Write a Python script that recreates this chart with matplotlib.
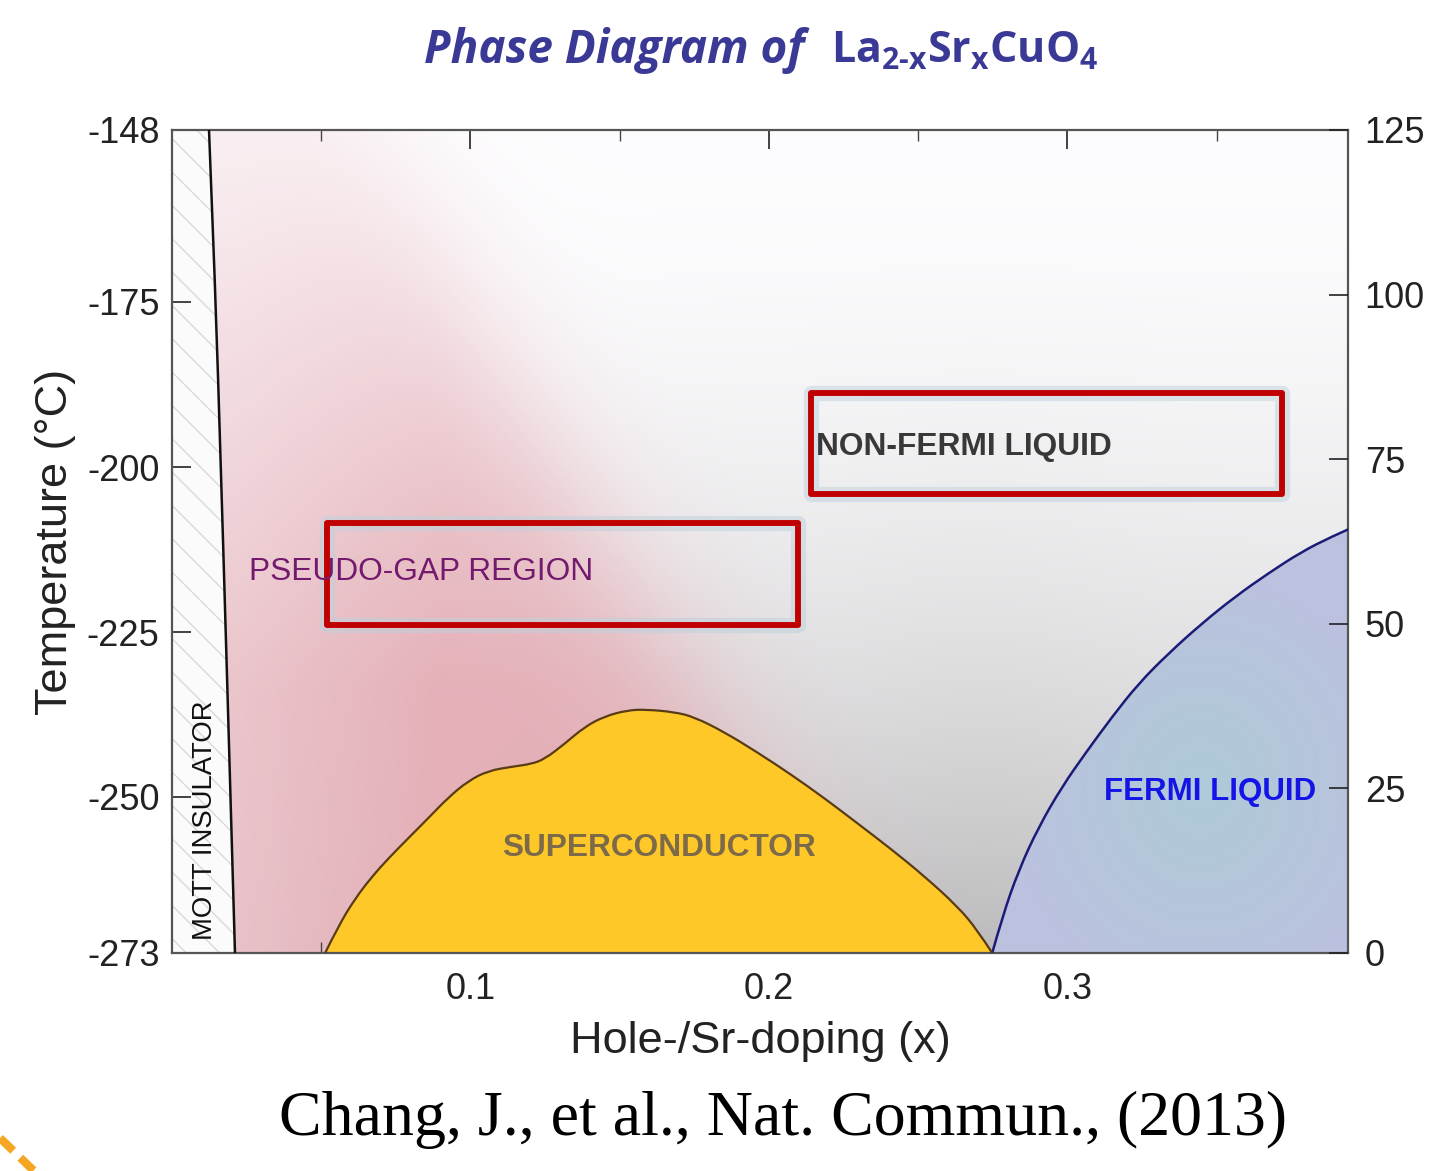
import numpy as np
import matplotlib
matplotlib.use("Agg")
import matplotlib.pyplot as plt
from matplotlib.patches import Rectangle, Polygon, PathPatch
from matplotlib.path import Path
from matplotlib.lines import Line2D
import matplotlib.patheffects as pe

# ---------------- data ----------------
# superconducting dome (doping x, T in K)
sc_x = [0.0513, 0.0558, 0.0613, 0.0669, 0.0725, 0.0792, 0.0859, 0.0925, 0.0992,
        0.1059, 0.1137, 0.1204, 0.1249, 0.1315, 0.1382, 0.1449, 0.1527, 0.1589,
        0.1683, 0.1750, 0.1851, 0.1962, 0.2074, 0.2185, 0.2297, 0.2408, 0.2519,
        0.2631, 0.2698, 0.2748]
sc_T = [0.0, 4.15, 8.23, 11.54, 14.37, 17.45, 20.50, 23.59, 26.12,
        27.67, 28.28, 28.71, 29.47, 31.76, 34.33, 35.95, 36.88, 36.98,
        36.60, 35.84, 33.54, 30.45, 27.11, 23.54, 19.68, 15.83, 11.73,
        7.11, 3.51, 0.0]

# Fermi-liquid boundary
fl_x = [0.2748, 0.2782, 0.2837, 0.2904, 0.2982, 0.3060, 0.3150, 0.3239,
        0.3339, 0.3451, 0.3562, 0.3673, 0.3785, 0.3885, 0.3941]
fl_T = [0.0, 5.51, 12.61, 19.18, 25.26, 30.33, 35.89, 40.96,
        45.52, 50.08, 54.12, 57.67, 60.95, 63.23, 64.35]

# Mott insulator boundary
mott_x = [0.0124, 0.0146, 0.0163, 0.0180, 0.0211]
mott_T = [125.0, 99.7, 74.4, 49.1, 0.0]

# highlighted boxes (x0, x1, T0, T1)
box_nfl = (0.2140, 0.3718, 69.7, 85.1)
box_pg = (0.0518, 0.2097, 49.8, 65.3)

x_ticks = [0.1, 0.2, 0.3]
x_minor = [0.05, 0.15, 0.25, 0.35]
k_ticks = [0, 25, 50, 75, 100, 125]
c_ticks = [-273, -250, -225, -200, -175, -148]
c_tick_pos_K = [0.0, 23.7, 48.75, 73.8, 98.9, 125.0]   # where the °C labels sit

XMIN, XMAX = 0.0, 0.394
TMIN, TMAX = 0.0, 125.0

plt.rcParams['font.family'] = ['Liberation Sans', 'DejaVu Sans']
plt.rcParams['mathtext.fontset'] = 'custom'
plt.rcParams['mathtext.rm'] = 'Open Sans:bold'
plt.rcParams['mathtext.it'] = 'Open Sans:bold'
plt.rcParams['mathtext.bf'] = 'Open Sans:bold'
plt.rcParams['hatch.linewidth'] = 0.9


def smooth_path(xs, ys, close_to_base=False):
    """Quadratic-Bezier path through the measured points (library-drawn curve)."""
    pts = list(zip(xs, ys))
    verts = [pts[0]]
    codes = [Path.MOVETO]
    for i in range(1, len(pts) - 1):
        mid = ((pts[i][0] + pts[i + 1][0]) / 2, (pts[i][1] + pts[i + 1][1]) / 2)
        if i == len(pts) - 2:
            mid = pts[-1]
        verts += [pts[i], mid]
        codes += [Path.CURVE3, Path.CURVE3]
    if close_to_base:
        verts += [pts[0], pts[0]]
        codes += [Path.LINETO, Path.CLOSEPOLY]
    return Path(verts, codes)


fig = plt.figure(figsize=(14.37, 11.71), dpi=100)
ax = fig.add_axes([172/1437, 1-953/1171, (1348-172)/1437, (953-130)/1171])
ax.set_xlim(XMIN, XMAX)
ax.set_ylim(TMIN, TMAX)

# ---------------- background shading ----------------
nx, ny = 500, 400
gx = np.linspace(XMIN, XMAX, nx)
gT = np.linspace(TMIN, TMAX, ny)
X, T = np.meshgrid(gx, gT)
frac = (TMAX - T) / TMAX
xw = 0.3 + 0.7 * np.clip((X - 0.03) / 0.15, 0, 1)
bg = 253 - 58 * frac ** 1.7 * xw
bg = bg - 8 * np.exp(-((X - 0.27) / 0.05) ** 2) * frac ** 2
rgb = np.stack([bg, bg, bg + 1.5], axis=-1)

edge = 0.176 - (T - 37) * 0.00122
fade = 1 / (1 + np.exp((X - edge) / 0.015))
vert = 0.25 + 0.65 * np.clip((TMAX - T) / 85, 0, 1)
left = 0.7 + 0.3 * np.clip((X - 0.02) / 0.07, 0, 1)
a = (fade * vert * left)[..., None]
pink = np.array([229, 170, 179])
img = rgb * (1 - a) + pink * a
img = np.clip(img / 255, 0, 1)
ax.imshow(img, extent=[XMIN, XMAX, TMIN, TMAX], origin='lower', aspect='auto',
          zorder=0, interpolation='bilinear')

# Mott insulator hatched region
ax.fill_betweenx(mott_T, XMIN, mott_x, facecolor='#fbfbfb', edgecolor='#d6d6d6',
                 hatch='\\', linewidth=0, zorder=1)
ax.add_patch(PathPatch(smooth_path(mott_x, mott_T), facecolor='none',
                       edgecolor='#111111', lw=1.8, zorder=3))

# Fermi liquid region with soft gradient
fl_path = smooth_path(fl_x + [XMAX], fl_T + [0.0])
fl_verts = list(zip(fl_x, fl_T))
fl_closed = Path(list(fl_path.vertices) + [(XMAX, 0.0), (fl_x[0], 0.0), (fl_x[0], 0.0)],
                 list(fl_path.codes) + [Path.LINETO, Path.LINETO, Path.CLOSEPOLY])
fl_patch = PathPatch(smooth_path(fl_x, fl_T), facecolor='none', edgecolor='none')
clip_patch = PathPatch(Path(list(smooth_path(fl_x, fl_T).vertices) + [(XMAX, 0.0), (fl_x[0], 0.0)],
                            list(smooth_path(fl_x, fl_T).codes) + [Path.LINETO, Path.LINETO]),
                       facecolor='none', edgecolor='none')
ax.add_patch(clip_patch)
fgx = np.linspace(0.27, XMAX, 200)
fgT = np.linspace(0, 66, 200)
FX, FT = np.meshgrid(fgx, fgT)
r = np.sqrt(((FX - 0.345) / 0.07) ** 2 + ((FT - 25) / 35) ** 2)
w = np.clip(1 - r, 0, 1)[..., None]
c_out = np.array([188, 193, 223]) / 255
c_in = np.array([174, 202, 216]) / 255
fimg = c_out * (1 - w) + c_in * w
im2 = ax.imshow(fimg, extent=[0.27, XMAX, 0, 66], origin='lower', aspect='auto',
                zorder=2, interpolation='bilinear')
im2.set_clip_path(clip_patch)
ax.add_patch(PathPatch(smooth_path(fl_x, fl_T), facecolor='none',
                       edgecolor='#1c1c78', lw=1.8, zorder=3))

# superconducting dome
sc_path = smooth_path(sc_x, sc_T)
ax.add_patch(PathPatch(Path(list(sc_path.vertices) + [(sc_x[0], 0.0)],
                            list(sc_path.codes) + [Path.LINETO]),
                       facecolor='#fec828', edgecolor='none', zorder=2))
ax.add_patch(PathPatch(sc_path, facecolor='none', edgecolor='#5a3c14',
                       lw=1.6, zorder=3))

# boxes
glow = [pe.withStroke(linewidth=11, foreground=(0.74, 0.82, 0.86, 0.5))]
for (x0, x1, t0, t1) in (box_pg, box_nfl):
    rect = Rectangle((x0, t0), x1 - x0, t1 - t0, fill=False, edgecolor='#c00000',
                     linewidth=4, zorder=5, joinstyle='round')
    rect.set_path_effects(glow + [pe.Normal()])
    ax.add_patch(rect)

# region labels
ax.text(0.0258, 57.9, 'PSEUDO-GAP REGION', color='#741a6e', fontsize=22.8,
        ha='left', va='center', zorder=6)
ax.text(0.2157, 76.9, 'NON-FERMI LIQUID', color='#383838', fontsize=22.9,
        fontweight='bold', ha='left', va='center', zorder=6)
ax.text(0.1632, 15.9, 'SUPERCONDUCTOR', color='#7d6a48', fontsize=22.8,
        fontweight='bold', ha='center', va='center', zorder=6)
ax.text(0.3833, 24.5, 'FERMI LIQUID', color='#1414e6', fontsize=22.5,
        fontweight='bold', ha='right', va='center', zorder=6)
ax.text(0.0110, 20.2, 'MOTT INSULATOR', color='#111111', fontsize=19.8,
        rotation=90, ha='center', va='center', zorder=6)

# ---------------- axes & ticks ----------------
ax.set_xticks(x_ticks)
ax.set_xticklabels([str(v) for v in x_ticks])
ax.set_xticks(x_minor, minor=True)
ax.set_yticks(c_tick_pos_K)
ax.set_yticklabels([str(v) for v in c_ticks])
ax.tick_params(axis='x', which='major', direction='in', length=14, width=1.2,
               top=True, labelsize=26, pad=14, colors='#222222')
ax.tick_params(axis='x', which='minor', direction='in', length=8, width=1.0,
               top=True, colors='#444444')
ax.tick_params(axis='y', which='major', direction='in', length=14, width=1.2,
               left=True, right=False, labelsize=26, pad=9, colors='#222222')
for s in ax.spines.values():
    s.set_color('#555555')
    s.set_linewidth(1.6)

ax2 = ax.twinx()
ax2.set_ylim(TMIN, TMAX)
ax2.set_yticks(k_ticks)
ax2.set_yticklabels([str(v) for v in k_ticks])
ax2.tick_params(axis='y', which='major', direction='in', length=14, width=1.2,
                labelsize=26, pad=12, colors='#222222')
for s in ax2.spines.values():
    s.set_visible(False)

ax.set_xlabel('Hole-/Sr-doping (x)', fontsize=32.5, color='#222222', labelpad=10)
ax.set_ylabel('Temperature (°C)', fontsize=32.5, color='#222222', labelpad=8)

# ---------------- title & citation ----------------
fig.text(805/1437, 1 - 51/1171, 'Phase Diagram of', fontsize=33,
         fontfamily='Open Sans', fontweight='bold', fontstyle='italic',
         color='#3a3a96', ha='right', va='center')
fig.text(831/1437, 1 - 51/1171, r'La$_{\mathrm{2\text{-}x}}$Sr$_{\mathrm{x}}$CuO$_{\mathrm{4}}$',
         fontsize=31, fontfamily='Open Sans', fontweight='bold',
         color='#3a3a96', ha='left', va='center')

fig.text(783/1437, 1 - 1120/1171, 'Chang, J., et al., Nat. Commun., (2013)',
         fontsize=46, fontfamily='Liberation Serif', color='black',
         ha='center', va='center')

# decorative dashed orange arc at the bottom-left corner
fig.add_artist(Line2D([0/1437, 34/1437], [1 - 1138/1171, 1 - 1171/1171],
                      color='#f5a623', lw=6, linestyle=(0, (2.2, 1.2)),
                      transform=fig.transFigure))

fig.savefig('out.png', dpi=100)
